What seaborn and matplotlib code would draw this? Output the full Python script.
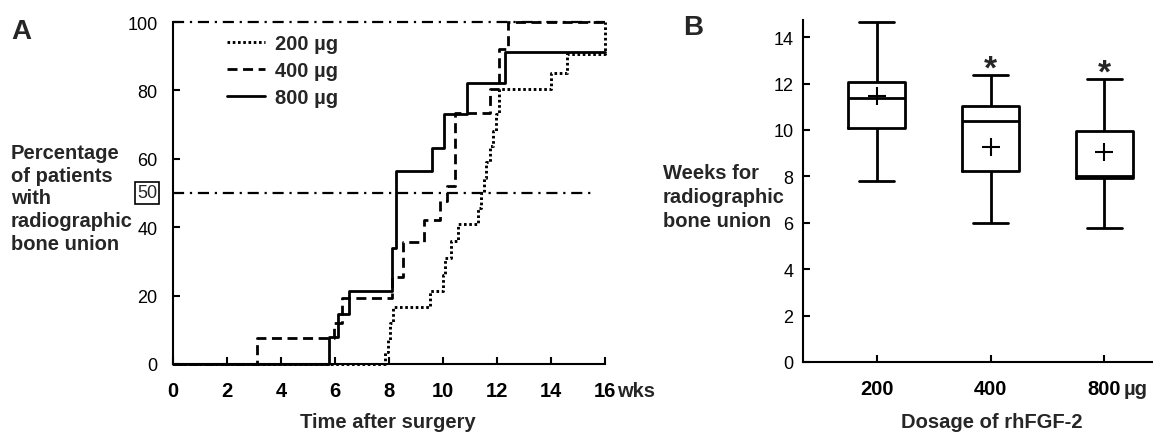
import numpy as np
import pandas as pd
import matplotlib
matplotlib.use("Agg")
import matplotlib.pyplot as plt
import seaborn as sns
from matplotlib.lines import Line2D

# ---------------- data ----------------
# Panel A: cumulative % of patients with radiographic bone union (step curves)
weeks_200 = [0, 7.85, 7.95, 8.05, 8.15, 9.5, 10.0, 10.07, 10.3, 10.55, 11.28, 11.4,
             11.5, 11.6, 11.75, 11.85, 11.95, 12.07, 14.0, 14.6, 16.0]
pct_200 = [0, 3.5, 7.0, 12.0, 16.7, 21.4, 26.0, 31.0, 36.0, 41.0, 45.5, 50.0,
           54.5, 59.0, 63.6, 68.0, 73.0, 80.5, 85.0, 90.5, 100.0]
weeks_400 = [0, 3.1, 5.95, 6.25, 8.1, 8.5, 9.3, 9.9, 10.15, 10.44, 11.74, 12.07, 12.4, 16.0]
pct_400 = [0, 7.7, 12.0, 19.3, 25.5, 35.7, 42.0, 47.7, 52.0, 73.5, 80.5, 92.0, 100.0, 100.0]
weeks_800 = [0, 5.78, 6.1, 6.5, 8.1, 8.25, 9.6, 10.04, 10.9, 12.3, 16.0]
pct_800 = [0, 7.9, 14.6, 21.4, 34.0, 56.4, 63.2, 73.1, 82.2, 91.2, 91.2]
legend_labels = ["200 \u00b5g", "400 \u00b5g", "800 \u00b5g"]
pct_ticks = [0, 20, 40, 60, 80, 100]
week_ticks = [0, 2, 4, 6, 8, 10, 12, 14, 16]

# Panel B: weeks for radiographic bone union (box plot summary)
dose_labels = ["200", "400", "800"]
whisker_low = [7.78, 6.0, 5.77]
q1 = [10.07, 8.25, 7.93]
median = [11.38, 10.37, 8.03]
q3 = [12.07, 11.03, 9.97]
whisker_high = [14.65, 12.37, 12.2]
means = [11.46, 9.28, 9.05]
significant = [False, True, True]
weeks_ticks_b = [0, 2, 4, 6, 8, 10, 12, 14]

# ---------------- style ----------------
sns.set_theme(style="ticks")
plt.rcParams["font.family"] = ["Liberation Sans", "DejaVu Sans"]
plt.rcParams["axes.linewidth"] = 1.5
plt.rcParams["axes.edgecolor"] = "black"

W, H = 1153, 435
fig = plt.figure(figsize=(W / 100, H / 100), dpi=100)
fig.patch.set_facecolor("white")

axA = fig.add_axes([173 / W, (H - 365) / H, 432 / W, 342 / H])
axB = fig.add_axes([803 / W, (H - 363) / H, 350 / W, 342 / H])

LAB = 14.5
TICK = 13

# ---------------- panel A ----------------
styles = [
    dict(x=weeks_200, y=pct_200, ls=(0, (0.9, 0.9)), lw=2.1),
    dict(x=weeks_400, y=pct_400, ls=(0, (3.6, 2.0)), lw=2.0),
    dict(x=weeks_800, y=pct_800, ls="-", lw=2.0),
]
for s in styles:
    sns.lineplot(x=s["x"], y=s["y"], ax=axA, drawstyle="steps-post", color="black",
                 linestyle=s["ls"], linewidth=s["lw"], estimator=None, sort=False,
                 clip_on=False, zorder=3)

# reference lines (100 % and 50 %)
dashdot = (0, (5, 2.6, 1, 2.6))
axA.plot([0, 16], [100, 100], color="black", lw=1.6, ls=dashdot, clip_on=False, zorder=2)
axA.plot([0, 15.6], [50, 50], color="black", lw=1.6, ls=dashdot, clip_on=False, zorder=2)

axA.set_xlim(0, 16)
axA.set_ylim(0, 100)
axA.set_xticks(week_ticks)
axA.set_xticklabels([str(t) for t in week_ticks], fontsize=LAB, fontweight="bold")
axA.set_yticks(pct_ticks)
axA.set_yticklabels([str(t) for t in pct_ticks], fontsize=TICK)
axA.tick_params(direction="in", length=5, width=1.5, colors="black")
axA.tick_params(axis="y", pad=11)
axA.tick_params(axis="x", pad=12)
sns.despine(ax=axA)
axA.set_facecolor("white")
axA.grid(False)
axA.annotate("wks", xy=(16, 0), xytext=(8.6, -12), textcoords="offset points",
             ha="left", va="top", fontsize=LAB, fontweight="bold", annotation_clip=False)
# boxed 50 label
axA.annotate("50", xy=(0, 50), xytext=(-11.5, 0), textcoords="offset points", ha="right",
             va="center", fontsize=TICK, annotation_clip=False,
             bbox=dict(boxstyle="square,pad=0.12", fc="white", ec="black", lw=1.2))

handles = [Line2D([], [], color="black", lw=s["lw"], ls=s["ls"]) for s in styles]
axA.legend(handles, legend_labels, loc="upper left", bbox_to_anchor=(0.125, 0.966),
           frameon=False, borderpad=0, borderaxespad=0, handlelength=1.9,
           handletextpad=0.5, labelspacing=0.4,
           prop=dict(size=LAB, weight="bold"))

axA.set_xlabel("")
axA.set_ylabel("")
fig.text(388 / W, 1 - 423 / H, "Time after surgery", ha="center", va="center",
         fontsize=LAB, fontweight="bold")
fig.text(11 / W, 1 - 199 / H, "Percentage\nof patients\nwith\nradiographic\nbone union",
         ha="left", va="center", fontsize=LAB, fontweight="bold", linespacing=1.26)
fig.text(11 / W, 1 - 32 / H, "A", ha="left", va="center", fontsize=20, fontweight="bold")

# ---------------- panel B ----------------
summary = pd.DataFrame({
    "dose": np.repeat(dose_labels, 5),
    "weeks": np.column_stack([whisker_low, q1, median, q3, whisker_high]).ravel(),
})
sns.boxplot(data=summary, x="dose", y="weeks", order=dose_labels, whis=(0, 100), width=0.5,
            fill=False, color="black", linecolor="black", linewidth=2, ax=axB,
            capwidths=0.31, showfliers=False)
means_df = pd.DataFrame({"dose": dose_labels, "mean": means})
sns.pointplot(data=means_df, x="dose", y="mean", order=dose_labels, marker="+",
              linestyle="none", color="black", markersize=13, markeredgewidth=1.5,
              errorbar=None, ax=axB)

for i, sig in enumerate(significant):
    if sig:
        axB.annotate("*", xy=(i, whisker_high[i]), xytext=(0, 4.3), textcoords="offset points",
                     ha="center", va="center", fontsize=24, fontweight="bold")

axB.set_xlim(-0.65, 2.43)
axB.set_ylim(0, 14.74)
axB.set_yticks(weeks_ticks_b)
axB.set_yticklabels([str(t) for t in weeks_ticks_b], fontsize=TICK)
axB.set_xticks(range(len(dose_labels)))
axB.set_xticklabels(dose_labels, fontsize=LAB, fontweight="bold")
axB.tick_params(direction="in", length=5, width=1.5, colors="black")
axB.tick_params(axis="y", pad=7)
axB.tick_params(axis="x", pad=12)
sns.despine(ax=axB)
axB.set_facecolor("white")
axB.grid(False)
axB.set_xlabel("")
axB.set_ylabel("")
axB.annotate("\u00b5g", xy=(2, 0), xytext=(14, -12), textcoords="offset points",
             ha="left", va="top", fontsize=LAB, fontweight="bold", annotation_clip=False)
fig.text(992 / W, 1 - 423 / H, "Dosage of rhFGF-2", ha="center", va="center",
         fontsize=LAB, fontweight="bold")
fig.text(663 / W, 1 - 197.5 / H, "Weeks for\nradiographic\nbone union",
         ha="left", va="center", fontsize=LAB, fontweight="bold", linespacing=1.34)
fig.text(683 / W, 1 - 28 / H, "B", ha="left", va="center", fontsize=20, fontweight="bold")

fig.savefig("out.png", dpi=100, facecolor="white")
